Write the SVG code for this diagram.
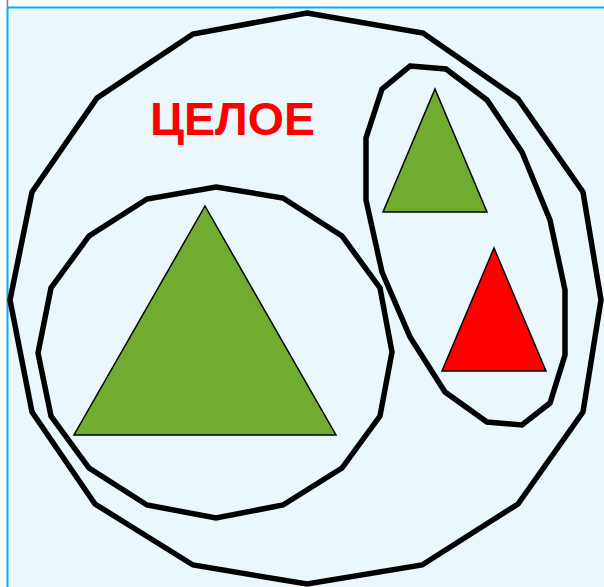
<svg xmlns="http://www.w3.org/2000/svg" width="604" height="587" viewBox="0 0 604 587">
  <style>
    .ring { fill: none; stroke: #000; stroke-width: 5.5; stroke-linejoin: miter; }
    .tri { stroke: #000; stroke-width: 1.5; }
    .green { fill: #6FAC2F; }
    .red { fill: #FF0000; }
    .label { font-family: "Liberation Sans", Arial, sans-serif; font-weight: bold; font-size: 46px; fill: #FF0000; }
  </style>
  <rect x="0" y="0" width="604" height="587" fill="#FFFFFF"/>
  <rect x="8" y="8" width="600" height="583" fill="#EAF8FE"/>
  <line x1="7.5" y1="0" x2="7.5" y2="7" stroke="#7F7F7F" stroke-width="1.5"/>
  <line x1="7" y1="7.5" x2="604" y2="7.5" stroke="#00B0F0" stroke-width="2"/>
  <line x1="7.5" y1="7" x2="7.5" y2="587" stroke="#00B0F0" stroke-width="2"/>

  <g id="whole">
    <polygon class="ring" points="307,13 423,33 518,99 583,192 601,300 583,412 518,504 422,565 307,584 193,565 95,504 32,412 10,300 32,192 97,98 193,34"/>
    <text class="label" x="150" y="135" textLength="165" lengthAdjust="spacingAndGlyphs">ЦЕЛОЕ</text>
  </g>

  <g id="left-part">
    <polygon class="ring" points="216,187 283,198 342,236 380,288 392,352 380,416 342,468 283,505 216,518 147,505 89,468 51,416 38,353 51,288 89,236 147,199"/>
    <polygon class="tri green" points="205,206 336,435 74,435"/>
  </g>

  <g id="right-part">
    <polygon class="ring" points="410,66 446,69 487,100 522,152 550,220 565,290 565,355 550,403 522,425 487,422 445,392 410,337 382,272 366,200 366,138 382,89"/>
    <polygon class="tri green" points="435,89 487,212 383,212"/>
    <polygon class="tri red" points="494,248 546,371 442,371"/>
  </g>

  <g id="connectors"></g>
</svg>
